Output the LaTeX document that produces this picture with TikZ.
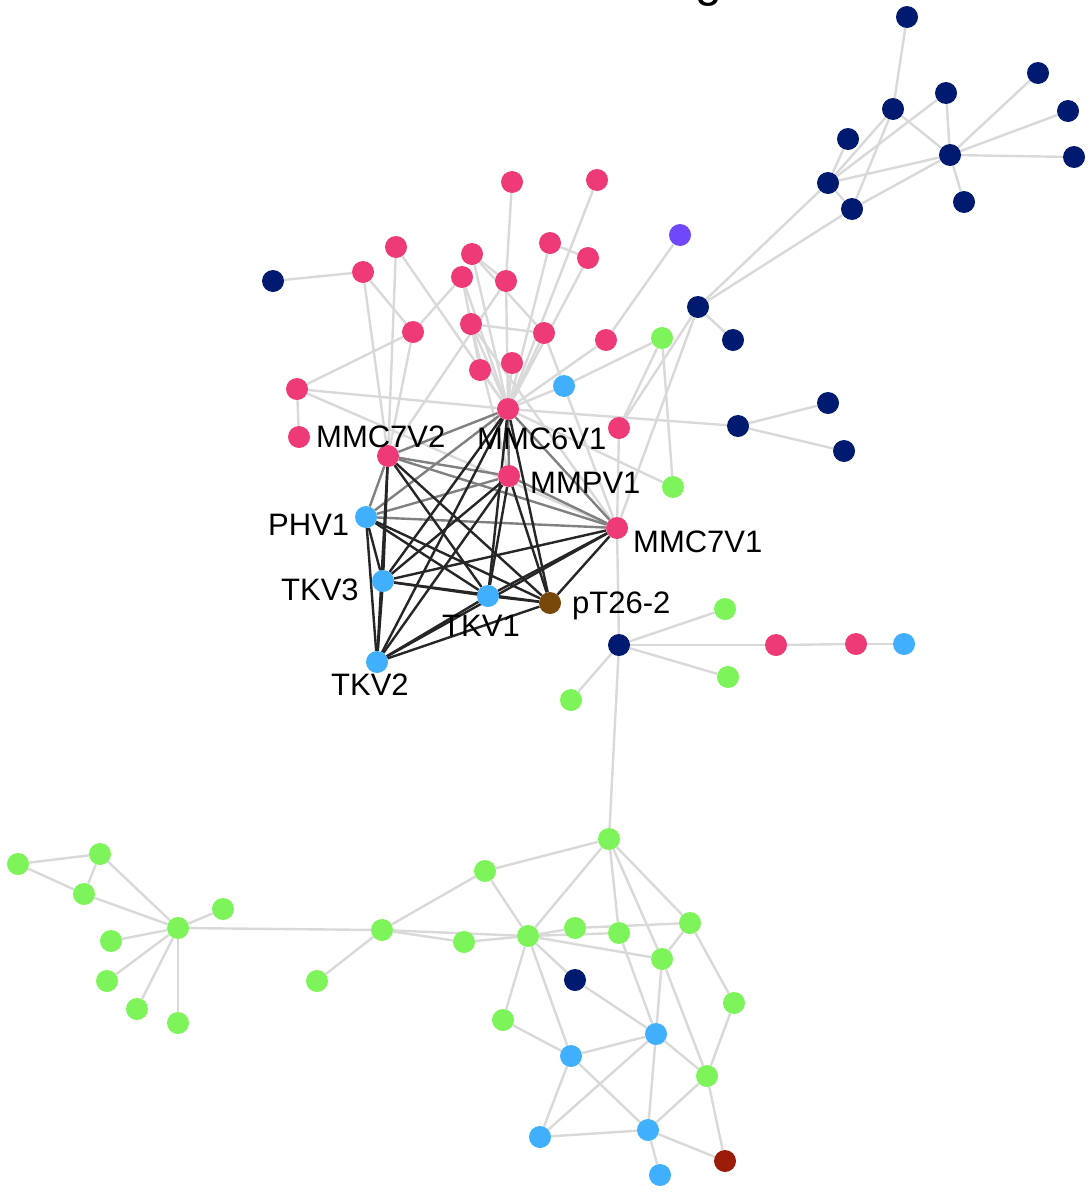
\documentclass[tikz,border=0pt]{standalone}
\usepackage{fontspec}
\setmainfont{Liberation Sans}
\usetikzlibrary{backgrounds}
\definecolor{cpink}{RGB}{238,59,120}
\definecolor{cnavy}{RGB}{0,26,112}
\definecolor{cblue}{RGB}{64,176,252}
\definecolor{cgreen}{RGB}{125,245,90}
\definecolor{cpurple}{RGB}{110,72,250}
\definecolor{cbrown}{RGB}{120,72,10}
\definecolor{cred}{RGB}{155,28,8}
\definecolor{cedge}{RGB}{217,217,217}
\tikzset{
  vbase/.style={circle, minimum size=22pt, inner sep=0pt, draw=none},
  vpink/.style={vbase, fill=cpink},
  vnavy/.style={vbase, fill=cnavy},
  vblue/.style={vbase, fill=cblue},
  vgreen/.style={vbase, fill=cgreen},
  vpurple/.style={vbase, fill=cpurple},
  vbrown/.style={vbase, fill=cbrown},
  vred/.style={vbase, fill=cred},
  edgelight/.style={draw=cedge, line width=2.4pt},
  edgedark/.style={draw=black!85, line width=2.4pt},
  edgemid/.style={draw=black!50, line width=2.4pt},
  vlabel/.style={anchor=base west, inner sep=0pt, font=\fontsize{31}{36}\selectfont},
}
\begin{document}
\begin{tikzpicture}[x=1pt,y=-1pt]
\useasboundingbox (0,0) rectangle (1092,1194);
% title (clipped at the top)
\node[anchor=base west, inner sep=0pt, font=\fontsize{48}{56}\selectfont] (title) at (695,-4) {g};
% navy
\node[vnavy] (d1) at (907,17) {};
\node[vnavy] (d2) at (893,109) {};
\node[vnavy] (d3) at (848,139) {};
\node[vnavy] (d4) at (946,93) {};
\node[vnavy] (d5) at (828,183) {};
\node[vnavy] (d6) at (852,209) {};
\node[vnavy] (d7) at (950,155) {};
\node[vnavy] (d7a) at (1038,73) {};
\node[vnavy] (d7b) at (1068,111) {};
\node[vnavy] (d7c) at (1074,157) {};
\node[vnavy] (d7d) at (964,202) {};
\node[vnavy] (d8) at (698,307) {};
\node[vnavy] (d8a) at (733,340) {};
\node[vnavy] (d10) at (273,281) {};
\node[vnavy] (dm) at (738,426) {};
\node[vnavy] (dm1) at (828,403) {};
\node[vnavy] (dm2) at (844,451) {};
\node[vnavy] (d9) at (619,645) {};
\node[vnavy] (dk) at (575,980) {};
% purple
\node[vpurple] (pu) at (680,235) {};
% pink
\node[vpink] (p1) at (363,272) {};
\node[vpink] (p2) at (396,247) {};
\node[vpink] (p3) at (472,254) {};
\node[vpink] (p4) at (462,277) {};
\node[vpink] (p5) at (506,281) {};
\node[vpink] (p6) at (512,182) {};
\node[vpink] (p7) at (597,180) {};
\node[vpink] (p8) at (550,243) {};
\node[vpink] (p9) at (588,258) {};
\node[vpink] (p10) at (413,332) {};
\node[vpink] (p11) at (471,324) {};
\node[vpink] (p12) at (544,333) {};
\node[vpink] (p13) at (606,340) {};
\node[vpink] (p14) at (480,370) {};
\node[vpink] (p15) at (512,363) {};
\node[vpink] (p16) at (297,389) {};
\node[vpink] (p17) at (299,437) {};
\node[vpink] (p18) at (619,428) {};
\node[vpink] (mmc6) at (508,409) {};
\node[vpink] (mmc7b) at (388,456) {};
\node[vpink] (mmpv) at (509,476) {};
\node[vpink] (mmc7a) at (617,528) {};
\node[vpink] (pa) at (776,645) {};
\node[vpink] (pb) at (856,644) {};
% blue
\node[vblue] (b1) at (564,386) {};
\node[vblue] (phv) at (366,517) {};
\node[vblue] (tkv3) at (383,581) {};
\node[vblue] (tkv1) at (488,596) {};
\node[vblue] (tkv2) at (377,662) {};
\node[vblue] (bc) at (904,644) {};
\node[vblue] (m) at (656,1034) {};
\node[vblue] (n) at (571,1056) {};
\node[vblue] (pp) at (540,1137) {};
\node[vblue] (q) at (648,1130) {};
\node[vblue] (r) at (660,1175) {};
% brown, red
\node[vbrown] (pt) at (550,603) {};
\node[vred] (s) at (725,1161) {};
% green
\node[vgreen] (ga) at (662,338) {};
\node[vgreen] (gb) at (673,487) {};
\node[vgreen] (gc) at (725,609) {};
\node[vgreen] (gd) at (728,677) {};
\node[vgreen] (ge) at (571,700) {};
\node[vgreen] (h) at (609,839) {};
\node[vgreen] (a) at (485,871) {};
\node[vgreen] (g10) at (382,930) {};
\node[vgreen] (b) at (464,942) {};
\node[vgreen] (c) at (528,936) {};
\node[vgreen] (e) at (575,928) {};
\node[vgreen] (f) at (619,933) {};
\node[vgreen] (i) at (690,923) {};
\node[vgreen] (j) at (662,959) {};
\node[vgreen] (k) at (734,1003) {};
\node[vgreen] (l) at (503,1020) {};
\node[vgreen] (o) at (707,1076) {};
\node[vgreen] (g1) at (18,864) {};
\node[vgreen] (g2) at (100,854) {};
\node[vgreen] (g3) at (84,894) {};
\node[vgreen] (g4) at (178,928) {};
\node[vgreen] (g5) at (223,909) {};
\node[vgreen] (g6) at (111,941) {};
\node[vgreen] (g7) at (107,981) {};
\node[vgreen] (g8) at (137,1009) {};
\node[vgreen] (g9) at (178,1023) {};
\node[vgreen] (g11) at (317,981) {};
% labels
\node[vlabel] (lmmc7b) at (316,447) {MMC7V2};
\node[vlabel] (lmmc6) at (477,449) {MMC6V1};
\node[vlabel] (lmmpv) at (530,493) {MMPV1};
\node[vlabel] (lphv) at (268,535) {PHV1};
\node[vlabel] (lmmc7a) at (633,552) {MMC7V1};
\node[vlabel] (ltkv3) at (281,600) {TKV3};
\node[vlabel] (ltkv1) at (442,636) {TKV1};
\node[vlabel] (lpt) at (572,613) {pT26-2};
\node[vlabel] (ltkv2) at (331,695) {TKV2};
\begin{pgfonlayer}{background}
\foreach \u/\w in {d1/d2,d2/d5,d2/d6,d2/d7,d3/d5,d4/d5,d4/d7,d7/d5,d7/d6,d7/d7a,d7/d7b,d7/d7c,d7/d7d,d5/d6,
  d8/d5,d8/d6,d8/d8a,d8/p18,d8/mmc7a,
  dm/mmc6,dm/dm1,dm/dm2,p13/pu,p13/mmc6,
  b1/ga,b1/mmc6,ga/gb,ga/p18,mmc6/gb,p12/b1,b1/mmc7a,p18/mmc7a,
  d10/p1,p1/mmc7b,p1/p10,p2/mmc7b,p2/mmc6,p3/p5,p3/p12,p3/mmc6,p4/p10,p4/p14,p4/mmc6,
  p5/mmc6,p6/p5,p5/mmc7b,p7/mmc6,p8/p9,p8/mmc6,p9/mmc6,p10/p16,p10/mmc7b,
  p11/p12,p11/mmc6,p11/mmpv,p11/mmc7a,p12/mmc6,p14/mmc6,p15/mmc6,
  p16/p17,p16/mmc6,p16/mmc7a,
  mmc7a/d9,d9/gc,d9/pa,d9/gd,d9/ge,d9/h,pa/pb,pb/bc,
  h/a,h/c,h/f,h/j,h/i,a/g10,a/c,g10/b,g10/c,b/c,g10/g4,g10/g11,
  c/e,e/i,c/f,c/j,c/dk,c/l,c/n,dk/m,f/m,i/j,i/k,j/m,j/o,k/o,
  m/n,m/pp,m/q,m/o,l/n,n/pp,n/q,pp/q,q/o,q/r,q/s,o/s,
  g1/g2,g1/g3,g2/g3,g2/g4,g3/g4,g4/g5,g4/g6,g4/g7,g4/g8,g4/g9}
  \draw[edgelight] (\u) -- (\w);
\foreach \u/\w in {mmc7b/mmc6,mmc7b/mmpv,mmc7b/mmc7a,mmc7b/phv,mmc6/mmpv,mmc6/mmc7a,mmc6/phv,
  mmpv/mmc7a,mmpv/phv,phv/mmc7a}
  \draw[edgemid] (\u) -- (\w);
\foreach \u/\w in {mmc7b/tkv3,mmc7b/tkv1,mmc7b/pt,mmc7b/tkv2,
  mmc6/tkv3,mmc6/tkv1,mmc6/pt,mmc6/tkv2,
  mmpv/tkv3,mmpv/tkv1,mmpv/pt,mmpv/tkv2,
  phv/tkv3,phv/tkv1,phv/pt,phv/tkv2,
  mmc7a/tkv3,mmc7a/tkv1,mmc7a/pt,mmc7a/tkv2,
  tkv3/tkv1,tkv3/pt,tkv3/tkv2,tkv1/pt,tkv1/tkv2,pt/tkv2}
  \draw[edgedark] (\u) -- (\w);
\end{pgfonlayer}
\end{tikzpicture}
\end{document}
